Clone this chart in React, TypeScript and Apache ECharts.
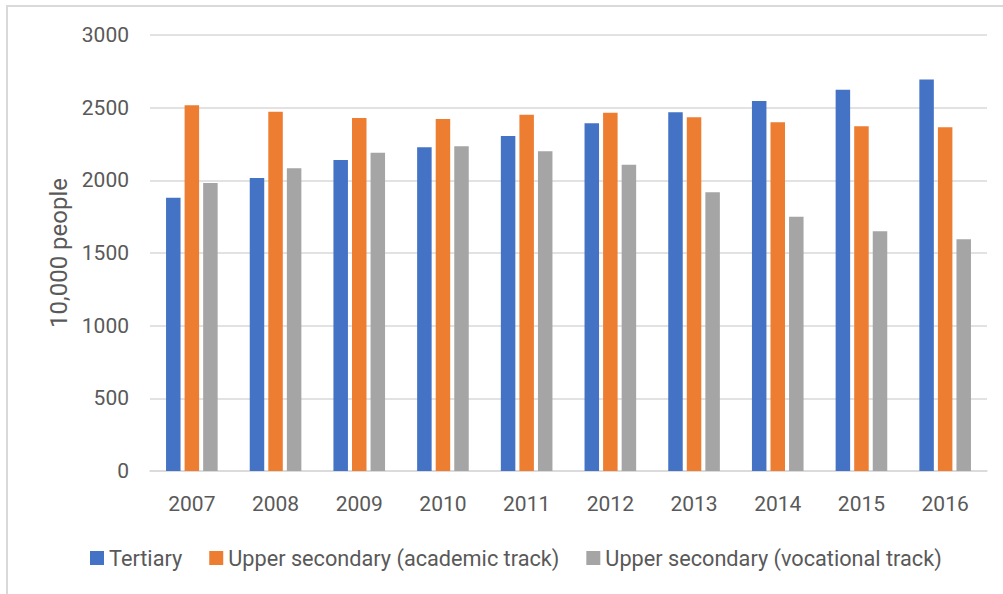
import React, { useEffect, useRef } from "react";
import * as echarts from "echarts";

const years = ["2007", "2008", "2009", "2010", "2011", "2012", "2013", "2014", "2015", "2016"];
const tertiary = [1881, 2016, 2140, 2227, 2305, 2393, 2468, 2546, 2624, 2693];
const academic = [2516, 2472, 2429, 2422, 2452, 2465, 2434, 2400, 2372, 2365];
const vocational = [1981, 2083, 2190, 2234, 2200, 2108, 1918, 1750, 1650, 1595];
const seriesNames = [
  "Tertiary",
  "Upper secondary (academic track)",
  "Upper secondary (vocational track)",
];
const colors = ["#4472C4", "#ED7D31", "#A5A5A5"];

const FONT = "Roboto";
const TEXT = "#595959";

export default function App() {
  const ref = useRef<HTMLDivElement>(null);
  useEffect(() => {
    if (!ref.current) return;
    const chart = echarts.init(ref.current, undefined, { renderer: "svg" });
    const data = [tertiary, academic, vocational];
    chart.setOption({
      animation: false,
      textStyle: { fontFamily: FONT, color: TEXT },
      grid: { left: 150, right: 16, top: 35, bottom: 123, containLabel: false },
      legend: {
        left: 85,
        top: 542,
        itemWidth: 14,
        itemHeight: 14,
        itemGap: 27,
        icon: "rect",
        textStyle: { fontFamily: FONT, fontSize: 21.7, color: TEXT },
        data: seriesNames,
      },
      xAxis: {
        type: "category",
        data: years,
        axisLine: { lineStyle: { color: "#D9D9D9", width: 1.5 } },
        axisTick: { show: false },
        axisLabel: { fontFamily: FONT, fontSize: 21, color: TEXT, margin: 22 },
      },
      yAxis: {
        type: "value",
        min: 0,
        max: 3000,
        interval: 500,
        name: "10,000 people",
        nameLocation: "middle",
        nameGap: 77,
        nameTextStyle: { fontFamily: FONT, fontSize: 24, color: TEXT },
        axisLine: { show: false },
        axisTick: { show: false },
        axisLabel: {
          fontFamily: FONT,
          fontSize: 21,
          color: TEXT,
          margin: 21,
          formatter: (v: number) => String(v),
        },
        splitLine: { lineStyle: { color: "#D9D9D9", width: 1.5 } },
      },
      series: seriesNames.map((name, i) => ({
        name,
        type: "bar",
        data: data[i],
        barWidth: 14.5,
        barGap: "28%",
        itemStyle: { color: colors[i] },
      })),
    });
    return () => chart.dispose();
  }, []);
  return (
    <div style={{ position: "absolute", left: 0, top: 0, width: 1003, height: 594, background: "#fff" }}>
      <div
        style={{
          position: "absolute",
          left: 6,
          top: 5,
          right: 0,
          bottom: 0,
          borderTop: "2px solid #D9D9D9",
          borderLeft: "2px solid #D9D9D9",
        }}
      />
      <div ref={ref} style={{ position: "absolute", left: 0, top: 0, width: 1003, height: 594 }} />
    </div>
  );
}
